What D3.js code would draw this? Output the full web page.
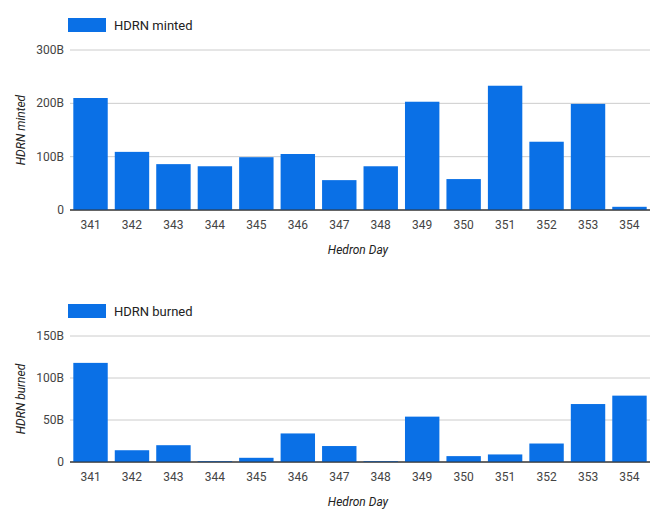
<!DOCTYPE html>
<html lang="en">
<head>
<meta charset="utf-8" />
<script src="https://d3js.org/d3.v7.min.js"></script>
<style>
  body { margin: 0; background: #fff; font-family: Roboto, Arial, sans-serif; }
  text { font-family: Roboto, Arial, sans-serif; fill: #222; }
</style>
</head>
<body>
<script>
const days = ["341","342","343","344","345","346","347","348","349","350","351","352","353","354"];
const minted = [210, 109, 86, 82, 99, 105, 56, 82, 203, 58, 233, 128, 199, 6];
const burned = [118, 14, 20, 1, 5, 34, 19, 1, 54, 7, 9, 22, 69, 79];
const mintedTicks = [0, 100, 200, 300];
const burnedTicks = [0, 50, 100, 150];

const w = 664, h = 524;
const color = "#0a70e6";
const svg = d3.select("body").append("svg").attr("width", w).attr("height", h);

function chart(o) {
  const g = svg.append("g");
  const x = d3.scaleBand().domain(days).range([70, 650]).paddingInner(0.17).paddingOuter(0.08);
  const y = d3.scaleLinear().domain([0, o.max]).range([o.bottom, o.top]);

  // legend
  g.append("rect").attr("x", 68).attr("y", o.legendY - 7).attr("width", 38).attr("height", 14).attr("fill", color);
  g.append("text").attr("x", 114).attr("y", o.legendY + 5).style("font-size", "13px").text(o.name);

  // grid
  g.selectAll(".grid").data(o.ticks).enter().append("line")
    .attr("x1", 70).attr("x2", 650)
    .attr("y1", d => y(d)).attr("y2", d => y(d))
    .attr("stroke", d => d === 0 ? "#333" : "#ccc").attr("stroke-width", 1);
  g.selectAll(".ytick").data(o.ticks).enter().append("text")
    .attr("x", 64).attr("y", d => y(d) + 4).attr("text-anchor", "end")
    .style("font-size", "12px").style("fill", "#444").text(d => d + (d === 0 ? "" : "B"));

  // bars
  g.selectAll(".bar").data(o.values).enter().append("rect")
    .attr("x", (d, i) => x(days[i])).attr("width", x.bandwidth())
    .attr("y", d => y(d)).attr("height", d => y(0) - y(d)).attr("fill", color);
  g.append("line").attr("x1", 70).attr("x2", 650).attr("y1", y(0)).attr("y2", y(0)).attr("stroke", "#333");

  // x labels
  g.selectAll(".xtick").data(days).enter().append("text")
    .attr("x", d => x(d) + x.bandwidth() / 2).attr("y", o.bottom + 19).attr("text-anchor", "middle")
    .style("font-size", "12px").style("fill", "#444").text(d => d);
  g.append("text").attr("x", 358).attr("y", o.bottom + 44).attr("text-anchor", "middle")
    .style("font-size", "12px").style("font-style", "italic").text("Hedron Day");
  g.append("text").attr("transform", `translate(25,${(o.top + o.bottom) / 2}) rotate(-90)`)
    .attr("text-anchor", "middle").style("font-size", "12px").style("font-style", "italic").text(o.name);
}

chart({ values: minted, ticks: mintedTicks, max: 300, top: 50, bottom: 210, legendY: 25, name: "HDRN minted" });
chart({ values: burned, ticks: burnedTicks, max: 150, top: 336, bottom: 462, legendY: 311, name: "HDRN burned" });
</script>
</body>
</html>
